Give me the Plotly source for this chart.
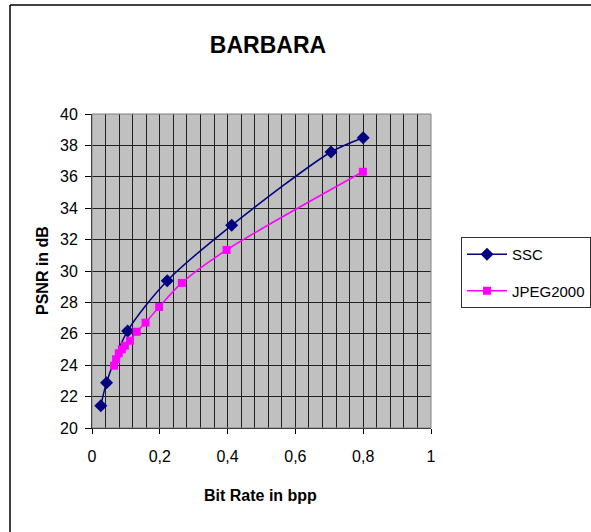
import plotly.graph_objects as go

ssc_x = [0.026, 0.043, 0.105, 0.222, 0.412, 0.705, 0.800]
ssc_y = [21.42, 22.89, 26.18, 29.38, 32.91, 37.58, 38.49]

jp_x = [0.065, 0.071, 0.079, 0.088, 0.097, 0.112, 0.132, 0.158, 0.198, 0.265, 0.397, 0.799]
jp_y = [23.97, 24.38, 24.76, 25.01, 25.24, 25.56, 26.13, 26.71, 27.71, 29.24, 31.34, 36.32]

x_ticks = [0, 0.2, 0.4, 0.6, 0.8, 1]
y_ticks = [20, 22, 24, 26, 28, 30, 32, 34, 36, 38, 40]

FONT = "Liberation Sans, Arial, sans-serif"
W, H = 591, 532
L, R, T, B = 92, 160, 114, 104

fig = go.Figure()
fig.add_trace(go.Scatter(
    x=ssc_x, y=ssc_y, name="SSC", mode="lines+markers",
    line=dict(color="#000080", width=1.5, shape="spline", smoothing=0.8),
    marker=dict(symbol="diamond", size=10, color="#000080"),
    legendgroup="a"))
fig.add_trace(go.Scatter(
    x=jp_x, y=jp_y, name="JPEG2000", mode="lines+markers",
    line=dict(color="#FF00FF", width=1.5, shape="spline", smoothing=0.8),
    marker=dict(symbol="square", size=8, color="#FF00FF"),
    legendgroup="b"))

pw = W - L - R
ph = H - T - B

def px_x(p):
    return (p - L) / pw

def px_y(p):
    return (H - B - p) / ph

shapes = [
    dict(type="rect", xref="paper", yref="paper", x0=0, y0=0, x1=1, y1=1,
         line=dict(color="#808080", width=1), layer="above"),
    dict(type="line", xref="paper", yref="paper", x0=px_x(10), x1=px_x(10),
         y0=px_y(5), y1=px_y(540), line=dict(color="black", width=1.5)),
    dict(type="line", xref="paper", yref="paper", x0=px_x(10), x1=px_x(600),
         y0=px_y(5), y1=px_y(5), line=dict(color="black", width=1.5)),
]

fig.update_layout(
    width=W, height=H,
    margin=dict(l=L, r=R, t=T, b=B, autoexpand=False),
    paper_bgcolor="white", plot_bgcolor="#C0C0C0",
    separators=", ",
    font=dict(family=FONT, size=16, color="black"),
    title=dict(text="<b>BARBARA</b>", x=268 / W, xref="container", xanchor="center",
               y=1 - 45 / H, yref="container", yanchor="middle",
               font=dict(family=FONT, size=23, color="black")),
    showlegend=True,
    legend=dict(x=px_x(461), y=px_y(237), xanchor="left", yanchor="top",
                bgcolor="white", bordercolor="#303030", borderwidth=1,
                font=dict(family=FONT, size=15), tracegroupgap=14,
                itemwidth=40),
    shapes=shapes,
    annotations=[
        dict(text="<b>Bit Rate in bpp</b>", xref="paper", yref="paper",
             x=px_x(260), y=px_y(495), showarrow=False,
             xanchor="center", yanchor="middle", font=dict(family=FONT, size=16)),
        dict(text="<b>PSNR in dB</b>", xref="paper", yref="paper",
             x=px_x(42), y=px_y(271), showarrow=False, textangle=-90,
             xanchor="center", yanchor="middle", font=dict(family=FONT, size=16)),
    ],
)

fig.update_xaxes(
    range=[0, 1], tickvals=x_ticks, tickformat=".1~f",
    showgrid=True, gridcolor="#202020", gridwidth=1,
    minor=dict(dtick=0.04, tick0=0, showgrid=True, gridcolor="#202020", gridwidth=1),
    showline=True, linecolor="black", linewidth=1,
    ticks="outside", ticklen=5, tickcolor="black",
    ticklabelstandoff=9, zeroline=False,
)
fig.update_yaxes(
    range=[20, 40], tickvals=y_ticks,
    showgrid=True, gridcolor="#202020", gridwidth=1,
    showline=True, linecolor="black", linewidth=1,
    ticks="outside", ticklen=6, tickcolor="black",
    ticklabelstandoff=4, zeroline=False,
)

fig.write_html("out.html", config={"displayModeBar": False},
               post_script="document.body.style.margin='0';")
